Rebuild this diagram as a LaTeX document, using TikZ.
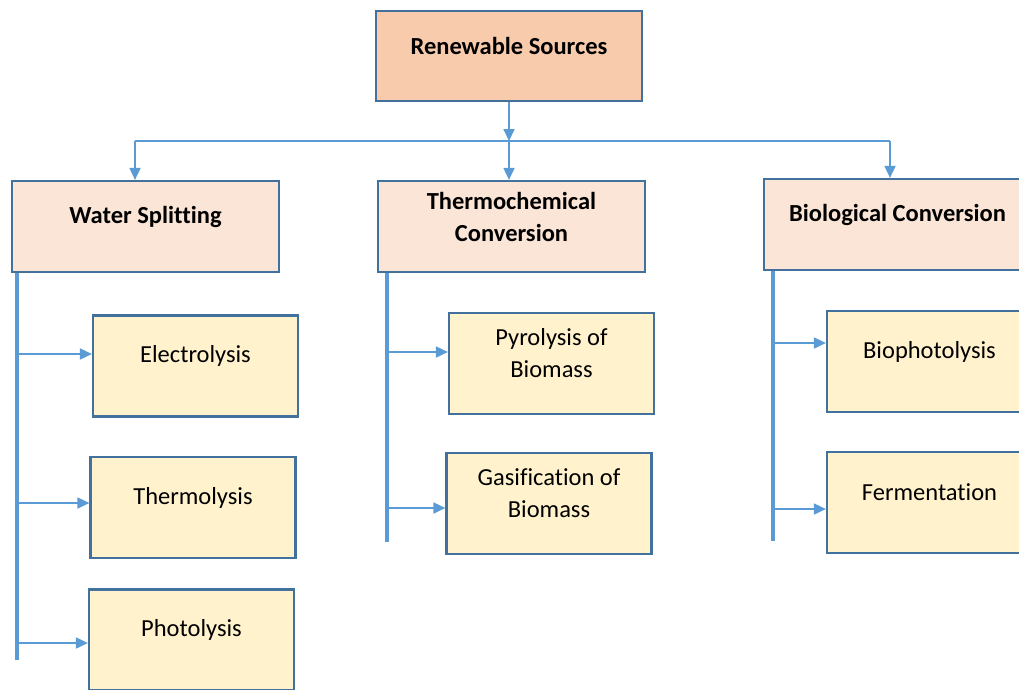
\documentclass[tikz,border=0pt]{standalone}
\usepackage{fontspec}
\setmainfont{Carlito}[Ligatures=NoCommon]
\usetikzlibrary{arrows.meta}
\definecolor{edgeblue}{HTML}{41719C}
\definecolor{linkblue}{HTML}{5B9BD5}
\definecolor{rootfill}{HTML}{F8CBAD}
\definecolor{groupfill}{HTML}{FBE5D6}
\definecolor{leaffill}{HTML}{FFF2CC}

\begin{document}
\begin{tikzpicture}[x=1pt, y=-1pt,
  every node/.style = {shape=rectangle, draw=edgeblue, line width=2.2pt,
    inner sep=0pt},
  every label/.style = {draw=none, align=center, yshift=10pt,
    font=\fontsize{24.5}{32}\selectfont},
  head/.style = {font=\fontsize{24.5}{32}\selectfont\bfseries}]
    \tikzstyle{root}=[fill=rootfill, minimum width=266pt, minimum height=90pt]
    \tikzstyle{group}=[fill=groupfill, minimum width=267pt, minimum height=91pt]
    \tikzstyle{leaf}=[fill=leaffill, minimum width=205pt, minimum height=101pt]
    \tikzstyle{link}=[draw=linkblue, line width=1.8pt, -{Triangle[length=12pt,width=11pt]}]
    \tikzstyle{trunk}=[draw=linkblue, line width=3.2pt]
  \useasboundingbox (0,0) rectangle (1019,689);
  \clip (0,0) rectangle (1019,689);

  % top of the tree
  \node[root] (rs) at (509,56) [label={[head]center:Renewable Sources}] {};
  \node[group] (ws) at (145.5,226.5) [label={[head]center:Water Splitting}] {};
  \node[group] (tc) at (511.5,226.5) [label={[head]center:Thermochemical\\Conversion}] {};
  \node[group] (bc) at (897.5,224.5) [label={[head]center:Biological Conversion}] {};

  % leaves
  \node[leaf] (el) at (195.5,366) [label=center:Electrolysis] {};
  \node[leaf] (th) at (193,507.5) [label=center:Thermolysis] {};
  \node[leaf] (ph) at (191.5,640) [label=center:Photolysis] {};
  \node[leaf] (py) at (551.5,363.5) [label=center:Pyrolysis of\\Biomass] {};
  \node[leaf] (ga) at (549,503.5) [label=center:Gasification of\\Biomass] {};
  \node[leaf] (bp) at (929.5,361.5) [label=center:Biophotolysis] {};
  \node[leaf] (fe) at (929.5,502.5) [label=center:Fermentation] {};

  % bus under the root
  \coordinate (bus) at (509,141);
  \coordinate (busL) at (135,141);
  \coordinate (busR) at (890,141);
  \draw[link] (rs) -- (bus);
  \draw[draw=linkblue, line width=1.8pt] (busL) -- (busR);
  \draw[link] (busL) -- (busL |- ws.north);
  \draw[link] (bus) -- (bus |- tc.north);
  \draw[link] (busR) -- (busR |- bc.north);

  % side trunks
  \coordinate (wsEnd) at (17,660);
  \coordinate (tcEnd) at (387,542);
  \coordinate (bcEnd) at (773,541);
  \draw[trunk] (wsEnd |- ws.south) -- (wsEnd);
  \draw[trunk] (tcEnd |- tc.south) -- (tcEnd);
  \draw[trunk] (bcEnd |- bc.south) -- (bcEnd);

  \coordinate (w1) at (17,354);
  \coordinate (w2) at (17,503);
  \coordinate (w3) at (17,643);
  \coordinate (t1) at (387,352);
  \coordinate (t2) at (387,508);
  \coordinate (b1) at (773,343);
  \coordinate (b2) at (773,509);
  \draw[link] (w1) -- (w1 -| el.west);
  \draw[link] (w2) -- (w2 -| th.west);
  \draw[link] (w3) -- (w3 -| ph.west);
  \draw[link] (t1) -- (t1 -| py.west);
  \draw[link] (t2) -- (t2 -| ga.west);
  \draw[link] (b1) -- (b1 -| bp.west);
  \draw[link] (b2) -- (b2 -| fe.west);
\end{tikzpicture}
\end{document}
